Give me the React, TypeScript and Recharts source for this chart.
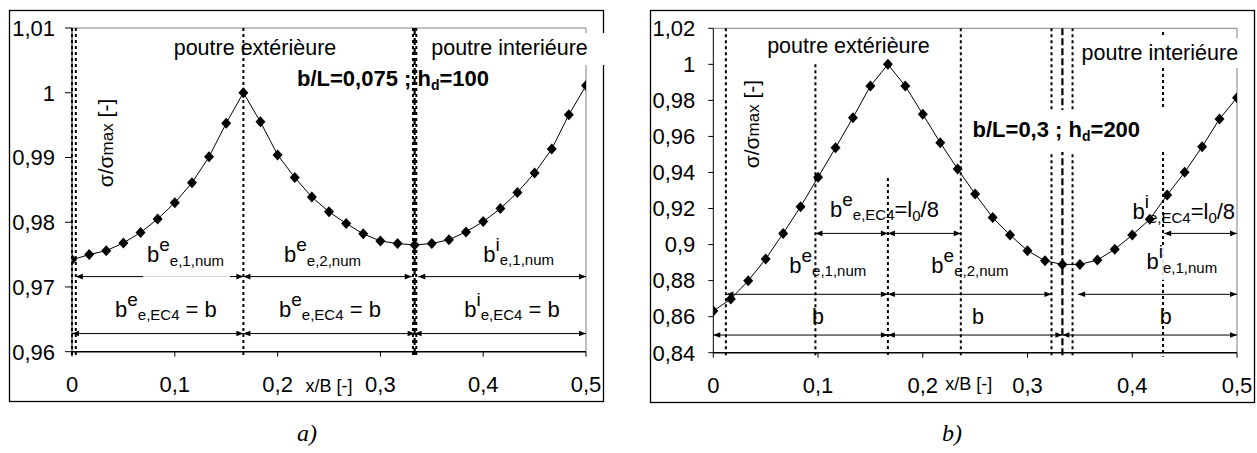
import React from 'react';
import { LineChart, Line, XAxis, YAxis, ReferenceLine, ReferenceDot } from 'recharts';

const FONT = '"Liberation Sans", Arial, Helvetica, sans-serif';
const SERIF = '"Liberation Serif", "Times New Roman", serif';

// x/B positions of the computed points
const xPositions = [0, 0.0167, 0.0333, 0.05, 0.0667, 0.0833, 0.1, 0.1167, 0.1333, 0.15, 0.1667,
  0.1833, 0.2, 0.2167, 0.2333, 0.25, 0.2667, 0.2833, 0.3, 0.3167, 0.3333,
  0.35, 0.3667, 0.3833, 0.4, 0.4167, 0.4333, 0.45, 0.4667, 0.4833, 0.5];

// panel a) b/L=0,075 ; hd=100
const sigmaA = [0.9742, 0.9750, 0.9756, 0.9768, 0.9784, 0.9805, 0.9830, 0.9861, 0.9901, 0.9953, 1.0000,
  0.9955, 0.9904, 0.9869, 0.9839, 0.9816, 0.9798, 0.9782, 0.9771, 0.9767, 0.9765,
  0.9767, 0.9773, 0.9785, 0.9801, 0.9821, 0.9846, 0.9876, 0.9913, 0.9966, 1.0011];

// panel b) b/L=0,3 ; hd=200
const sigmaB = [0.8631, 0.8698, 0.8799, 0.8920, 0.9062, 0.9210, 0.9373, 0.9537, 0.9704, 0.9880, 1.0000,
  0.9880, 0.9723, 0.9565, 0.9419, 0.9280, 0.9150, 0.9053, 0.8966, 0.8910, 0.8890,
  0.8890, 0.8914, 0.8974, 0.9053, 0.9140, 0.9275, 0.9401, 0.9543, 0.9697, 0.9815];

const xTicks = [0, 0.1, 0.2, 0.3, 0.4, 0.5];
const yTicksA = [0.96, 0.97, 0.98, 0.99, 1, 1.01];
const yTicksB = [0.84, 0.86, 0.88, 0.9, 0.92, 0.94, 0.96, 0.98, 1, 1.02];

// vertical division lines: x, from y1 to y2
const dividersA = [
  { x: 0, y1: 1.01, y2: 0.9593, kind: 'dot' },
  { x: 0.0037, y1: 1.01, y2: 0.9593, kind: 'dot' },
  { x: 0.1667, y1: 1.01, y2: 0.9593, kind: 'dot' },
  { x: 0.3317, y1: 1.01, y2: 0.9593, kind: 'dot' },
  { x: 0.3333, y1: 1.01, y2: 0.9593, kind: 'dash' },
  { x: 0.3349, y1: 1.01, y2: 0.9593, kind: 'dot' },
];
const dividersB = [
  { x: 0.012, y1: 1.02, y2: 0.8378, kind: 'dot' },
  { x: 0.0975, y1: 1.0, y2: 0.8378, kind: 'dot' },
  { x: 0.1667, y1: 0.937, y2: 0.8378, kind: 'dot' },
  { x: 0.2363, y1: 1.02, y2: 0.8378, kind: 'dot' },
  { x: 0.3229, y1: 1.02, y2: 0.8378, kind: 'dot' },
  { x: 0.3333, y1: 1.02, y2: 0.8378, kind: 'dash' },
  { x: 0.343, y1: 1.02, y2: 0.8378, kind: 'dot' },
  { x: 0.4294, y1: 1.018, y2: 0.8378, kind: 'dot' },
];

// double-headed width arrows: y level, from x, to x
const arrowsA = [
  { y: 0.9716, from: 0.0037, to: 0.1667 },
  { y: 0.9716, from: 0.1667, to: 0.3305 },
  { y: 0.9716, from: 0.3368, to: 0.5 },
  { y: 0.9628, from: 0, to: 0.1667 },
  { y: 0.9628, from: 0.1667, to: 0.3333 },
  { y: 0.9628, from: 0.3333, to: 0.5 },
];
const arrowsB = [
  { y: 0.9062, from: 0.0975, to: 0.1667 },
  { y: 0.9062, from: 0.1667, to: 0.2363 },
  { y: 0.9062, from: 0.4305, to: 0.5 },
  { y: 0.8724, from: 0.0125, to: 0.1667 },
  { y: 0.8724, from: 0.1667, to: 0.3229 },
  { y: 0.8724, from: 0.3483, to: 0.5 },
  { y: 0.8498, from: 0, to: 0.1667 },
  { y: 0.8498, from: 0.1667, to: 0.3333 },
  { y: 0.8498, from: 0.3333, to: 0.5 },
];

type Lab = { x: number; y: number; sup: string; sub: string; tail?: string; tailSub?: string; tail2?: string; box?: number[] };

const labelsA: Lab[] = [
  { x: 0.073, y: 0.97381, sup: 'e', sub: 'e,1,num', box: [-4, -24, 87, 40] },
  { x: 0.2062, y: 0.97381, sup: 'e', sub: 'e,2,num' },
  { x: 0.4001, y: 0.97386, sup: 'i', sub: 'e,1,num' },
  { x: 0.0418, y: 0.96541, sup: 'e', sub: 'e,EC4', tail: ' = b' },
  { x: 0.2014, y: 0.96541, sup: 'e', sub: 'e,EC4', tail: ' = b' },
  { x: 0.3816, y: 0.96541, sup: 'i', sub: 'e,EC4', tail: ' = b' },
];
const labelsB: Lab[] = [
  { x: 0.1114, y: 0.91545, sup: 'e', sub: 'e,EC4', tail: '=l', tailSub: '0', tail2: '/8' },
  { x: 0.4002, y: 0.91417, sup: 'i', sub: 'e,EC4', tail: '=l', tailSub: '0', tail2: '/8' },
  { x: 0.0725, y: 0.88437, sup: 'e', sub: 'e,1,num' },
  { x: 0.2082, y: 0.88437, sup: 'e', sub: 'e,2,num' },
  { x: 0.4136, y: 0.88643, sup: 'i', sub: 'e,1,num', box: [-4, -24, 74, 35] },
];

type Txt = { x: number; y: number; text: string; sub?: string; post?: string; bold?: boolean; box?: number[] };
const textsA: Txt[] = [
  { x: 0.178, y: 1.00583, text: 'poutre extérièure' },
  { x: 0.4256, y: 1.00583, text: 'poutre interiéure', box: [-91.5, -22, 187, 32] },
  { x: 0.3123, y: 1.00104, text: 'b/L=0,075 ; h', sub: 'd', post: '=100', bold: true },
];
const textsB: Txt[] = [
  { x: 0.129, y: 1.00629, text: 'poutre extérièure' },
  { x: 0.4263, y: 1.00241, text: 'poutre interiéure', box: [-82, -22, 167, 30] },
  { x: 0.3275, y: 0.95951, text: 'b/L=0,3 ; h', sub: 'd', post: '=200', bold: true, box: [-91.5, -27.3, 205, 42] },
  { x: 0.0999, y: 0.85618, text: 'b' },
  { x: 0.2526, y: 0.85618, text: 'b' },
  { x: 0.432, y: 0.85618, text: 'b' },
];

const fmt = (v: number) => String(v).replace('.', ',');

const Diamond = (p: any) => {
  if (p.cx == null || p.cy == null) return <g key={`d${p.index}`} />;
  const { cx, cy } = p;
  return (
    <path key={`d${p.index}`} d={`M${cx},${cy - 5.5}L${cx + 5},${cy}L${cx},${cy + 5.5}L${cx - 5},${cy}Z`} fill="#000" />
  );
};

const ArrowShape = (p: any) => {
  const { x1, y1, x2, y2 } = p;
  const h = 7;
  const w = 2.8;
  return (
    <g>
      <line x1={x1} y1={y1} x2={x2} y2={y2} stroke="#000" strokeWidth={1} />
      <path d={`M${x1},${y1}L${x1 + h},${y1 - w}L${x1 + h},${y1 + w}Z`} fill="#000" />
      <path d={`M${x2},${y2}L${x2 - h},${y2 - w}L${x2 - h},${y2 + w}Z`} fill="#000" />
    </g>
  );
};

const labShape = (l: Lab) => (p: any) => {
  const { cx, cy } = p;
  return (
    <g>
      {l.box && <rect x={cx + l.box[0]} y={cy + l.box[1]} width={l.box[2]} height={l.box[3]} fill="#fff" fillOpacity={0.85} />}
      <text x={cx} y={cy} fontSize={22} fontFamily={FONT} fill="#000" style={{ whiteSpace: 'pre' }}>
        b
        <tspan dy={-11} fontSize={19}>{l.sup}</tspan>
        <tspan dy={14.5} fontSize={15}>{l.sub}</tspan>
        {l.tail && <tspan dy={-3.5} fontSize={22}>{l.tail}</tspan>}
        {l.tailSub && <tspan dy={4} fontSize={15}>{l.tailSub}</tspan>}
        {l.tail2 && <tspan dy={-4} fontSize={22}>{l.tail2}</tspan>}
      </text>
    </g>
  );
};

const txtShape = (t: Txt) => (p: any) => {
  const { cx, cy } = p;
  return (
    <g>
      {t.box && <rect x={cx + t.box[0]} y={cy + t.box[1]} width={t.box[2]} height={t.box[3]} fill="#fff" />}
      <text x={cx} y={cy} textAnchor="middle" fontSize={t.bold ? 22 : 21.5} fontWeight={t.bold ? 'bold' : 'normal'}
        fontFamily={FONT} fill="#000" style={{ whiteSpace: 'pre' }}>
        {t.text}
        {t.sub && <tspan dy={4} fontSize={14}>{t.sub}</tspan>}
        {t.post && <tspan dy={-4} fontSize={22}>{t.post}</tspan>}
      </text>
    </g>
  );
};

const yTitleShape = (p: any) => {
  const { cx, cy } = p;
  return (
    <text x={cx} y={cy} dy={7} transform={`rotate(-90 ${cx} ${cy})`} textAnchor="middle" fontSize={21}
      fontFamily={FONT} fill="#000" style={{ whiteSpace: 'pre' }}>
      σ/σ<tspan fontSize={17}>max</tspan> [-]
    </text>
  );
};

const xTitleShape = (p: any) => (
  <text x={p.cx} y={p.cy} textAnchor="middle" fontSize={18} fontFamily={FONT} fill="#000">x/B [-]</text>
);

type PanelProps = {
  width: number;
  margin: { top: number; right: number; bottom: number; left: number };
  values: number[];
  yDomain: number[];
  yTicks: number[];
  yTickSize: number;
  yTickMargin: number;
  dividers: { x: number; y1: number; y2: number; kind: string }[];
  arrows: { y: number; from: number; to: number }[];
  labels: Lab[];
  texts: Txt[];
  yTitle: { x: number; y: number };
  xTitle: { x: number; y: number };
};

function Panel(props: PanelProps) {
  const { width, margin, values, yDomain, yTicks, yTickSize, yTickMargin, dividers, arrows, labels, texts, yTitle, xTitle } = props;
  const data = xPositions.map((x, i) => ({ x, v: values[i] }));
  const tickStyle = { fontSize: 22, fill: '#000', fontFamily: FONT };
  return (
    <LineChart width={width} height={453} data={data} margin={margin}>
      <XAxis type="number" dataKey="x" domain={[0, 0.5]} ticks={xTicks} interval={0} tickFormatter={fmt}
        tickSize={5} tickMargin={20} height={30} allowDataOverflow
        axisLine={{ stroke: '#000', strokeWidth: 1.5 }} tickLine={{ stroke: '#000' }} tick={tickStyle} />
      <YAxis type="number" domain={yDomain} ticks={yTicks} interval={0} tickFormatter={fmt} width={60}
        tickSize={yTickSize} tickMargin={yTickMargin} allowDataOverflow
        axisLine={{ stroke: '#000' }} tickLine={{ stroke: '#000' }} tick={tickStyle} />
      <ReferenceLine y={yDomain[1]} stroke="#808080" strokeWidth={1} ifOverflow="visible" />
      <ReferenceLine x={0.5} stroke="#808080" strokeWidth={1} ifOverflow="visible" />
      {dividers.map((d, i) => (
        <ReferenceLine key={`v${i}`} ifOverflow="visible"
          segment={[{ x: d.x, y: d.y1 }, { x: d.x, y: d.y2 }]}
          stroke="#000" strokeWidth={d.kind === 'dash' ? 2.2 : 2}
          strokeDasharray={d.kind === 'dash' ? '7 3' : '3 3'} />
      ))}
      {arrows.map((a, i) => (
        <ReferenceLine key={`a${i}`} ifOverflow="visible"
          segment={[{ x: a.from, y: a.y }, { x: a.to, y: a.y }]} shape={ArrowShape} />
      ))}
      <Line type="linear" dataKey="v" stroke="#000" strokeWidth={1} dot={Diamond} activeDot={false}
        isAnimationActive={false} />
      {texts.map((t, i) => (
        <ReferenceDot key={`t${i}`} x={t.x} y={t.y} ifOverflow="visible" shape={txtShape(t)} />
      ))}
      {labels.map((l, i) => (
        <ReferenceDot key={`l${i}`} x={l.x} y={l.y} ifOverflow="visible" shape={labShape(l)} />
      ))}
      <ReferenceDot x={yTitle.x} y={yTitle.y} ifOverflow="visible" shape={yTitleShape} />
      <ReferenceDot x={xTitle.x} y={xTitle.y} ifOverflow="visible" shape={xTitleShape} />
    </LineChart>
  );
}

export default function App() {
  return (
    <div style={{ position: 'absolute', left: 0, top: 0, width: 1257, height: 453, background: '#fff', overflow: 'hidden' }}>
      <svg width={1257} height={453} style={{ position: 'absolute', left: 0, top: 0 }}>
        <rect x={9.5} y={10.5} width={594} height={391} fill="none" stroke="#000" strokeWidth={1.3} />
        <rect x={650.5} y={10.5} width={604} height={392} fill="none" stroke="#000" strokeWidth={1.3} />
        <text x={307} y={441} textAnchor="middle" fontFamily={SERIF} fontStyle="italic" fontSize={24} fill="#000">a)</text>
        <text x={952} y={441} textAnchor="middle" fontFamily={SERIF} fontStyle="italic" fontSize={24} fill="#000">b)</text>
      </svg>
      <div style={{ position: 'absolute', left: 0, top: 0 }}>
        <Panel
          width={610}
          margin={{ top: 28, right: 24, bottom: 71.3, left: 12 }}
          values={sigmaA}
          yDomain={[0.96, 1.01]}
          yTicks={yTicksA}
          yTickSize={7}
          yTickMargin={10}
          dividers={dividersA}
          arrows={arrowsA}
          labels={labelsA}
          texts={textsA}
          yTitle={{ x: 0.0331, y: 0.99224 }}
          xTitle={{ x: 0.25, y: 0.95378 }}
        />
      </div>
      <div style={{ position: 'absolute', left: 630, top: 0 }}>
        <Panel
          width={627}
          margin={{ top: 28.3, right: 20, bottom: 70.3, left: 23.3 }}
          values={sigmaB}
          yDomain={[0.84, 1.02]}
          yTicks={yTicksB}
          yTickSize={5}
          yTickMargin={13}
          dividers={dividersB}
          arrows={arrowsB}
          labels={labelsB}
          texts={textsB}
          yTitle={{ x: 0.0369, y: 0.96689 }}
          xTitle={{ x: 0.244, y: 0.8193 }}
        />
      </div>
    </div>
  );
}
